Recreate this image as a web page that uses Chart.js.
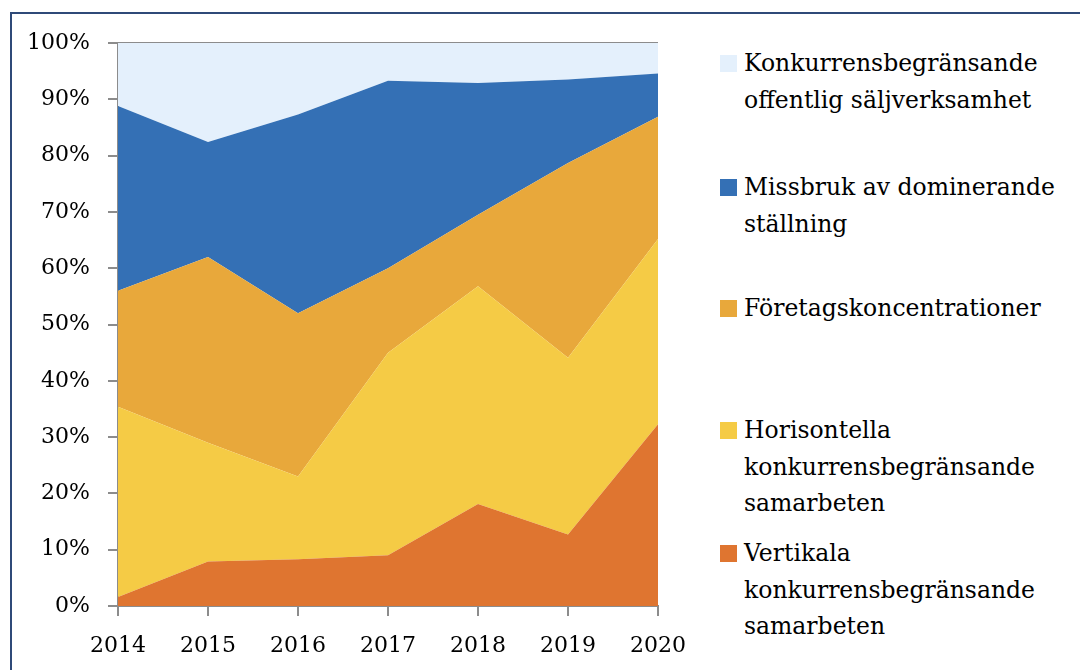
<!DOCTYPE html>
<html>
<head>
<meta charset="utf-8">
<script src="https://cdn.jsdelivr.net/npm/chart.js@4"></script>
<style>
  body { margin: 0; width: 1080px; height: 670px; background: #fff; overflow: hidden; position: relative; font-family: 'DejaVu Serif', serif; }
  #frame { position: absolute; left: 10px; top: 12px; width: 1100px; height: 700px; border-left: 2px solid #2F4A78; border-top: 2px solid #2F4A78; }
  #chartBox { position: absolute; left: 0; top: 0; width: 690px; height: 670px; }
  #legend { position: absolute; left: 0; top: 0; }
  .item { position: absolute; left: 720px; width: 360px; font-size: 23.5px; line-height: 36.5px; color: #000; }
  .box { position: absolute; left: 0; top: 10px; width: 17px; height: 17px; }
  .txt { position: absolute; left: 24px; top: 0; white-space: nowrap; }
</style>
</head>
<body>
<div id="frame"></div>
<div id="chartBox"><canvas id="areaChart"></canvas></div>
<div id="legend"></div>
<script>
// categories
const years = ['2014', '2015', '2016', '2017', '2018', '2019', '2020'];

// share per case type (percent), bottom to top
const vertikala = [1.6, 7.9, 8.3, 9.0, 18.1, 12.7, 32.3];
const horisontella = [33.8, 21.1, 14.7, 36.0, 38.7, 31.4, 32.9];
const foretagskonc = [20.6, 33.0, 29.0, 15.0, 12.7, 34.6, 21.7];
const missbruk = [32.8, 20.4, 35.3, 33.3, 23.4, 14.8, 7.7];
const offentlig = [11.2, 17.6, 12.7, 6.7, 7.1, 6.5, 5.4];

const yTicks = [0, 10, 20, 30, 40, 50, 60, 70, 80, 90, 100];

const series = [
    { label: 'Vertikala konkurrensbegränsande samarbeten', lines: ['Vertikala', 'konkurrensbegränsande', 'samarbeten'], data: vertikala, color: '#DF7530', top: 535 },
    { label: 'Horisontella konkurrensbegränsande samarbeten', lines: ['Horisontella', 'konkurrensbegränsande', 'samarbeten'], data: horisontella, color: '#F5CB45', top: 412 },
    { label: 'Företagskoncentrationer', lines: ['Företagskoncentrationer'], data: foretagskonc, color: '#E8A83B', top: 290 },
    { label: 'Missbruk av dominerande ställning', lines: ['Missbruk av dominerande', 'ställning'], data: missbruk, color: '#3470B5', top: 169 },
    { label: 'Konkurrensbegränsande offentlig säljverksamhet', lines: ['Konkurrensbegränsande', 'offentlig säljverksamhet'], data: offentlig, color: '#E4F0FC', top: 45 }
];

const axisGray = '#8C8C8C';
const font = { family: "'DejaVu Serif', serif", size: 22 };

new Chart(document.getElementById('areaChart'), {
    type: 'line',
    data: {
        labels: years,
        datasets: series.map((s, i) => ({
            label: s.label,
            data: s.data,
            backgroundColor: s.color,
            borderColor: s.color,
            borderWidth: 0,
            pointRadius: 0,
            tension: 0,
            fill: i === 0 ? 'origin' : '-1'
        }))
    },
    options: {
        responsive: true,
        maintainAspectRatio: false,
        animation: false,
        layout: { padding: { top: 43, right: 32, left: 0, bottom: 0 } },
        plugins: {
            legend: { display: false },
            tooltip: { enabled: false }
        },
        scales: {
            x: {
                offset: false,
                afterFit: (scale) => {
                    scale.height = 64;
                    scale.paddingLeft = 0;
                    scale.paddingRight = 0;
                },
                grid: { drawOnChartArea: false, color: axisGray, tickColor: axisGray, tickLength: 10, lineWidth: 2 },
                border: { color: axisGray, width: 2 },
                ticks: { color: '#000', font: font, padding: 17, maxRotation: 0 }
            },
            y: {
                stacked: true,
                min: 0,
                max: 100,
                afterFit: (scale) => { scale.width = 118; },
                afterBuildTicks: (scale) => { scale.ticks = yTicks.map(v => ({ value: v })); },
                grid: {
                    color: (ctx) => ctx.tick && ctx.tick.value === 100 ? axisGray : 'rgba(0,0,0,0)',
                    tickColor: axisGray,
                    tickLength: 10,
                    lineWidth: 2
                },
                border: { color: axisGray, width: 2 },
                ticks: { color: '#000', font: font, padding: 18, callback: (v) => v + '%' }
            }
        }
    }
});

// legend, top item first
const legend = document.getElementById('legend');
series.slice().reverse().forEach(s => {
    const item = document.createElement('div');
    item.className = 'item';
    item.style.top = s.top + 'px';
    const box = document.createElement('div');
    box.className = 'box';
    box.style.background = s.color;
    const txt = document.createElement('div');
    txt.className = 'txt';
    txt.innerHTML = s.lines.join('<br>');
    item.appendChild(box);
    item.appendChild(txt);
    legend.appendChild(item);
});
</script>
</body>
</html>
